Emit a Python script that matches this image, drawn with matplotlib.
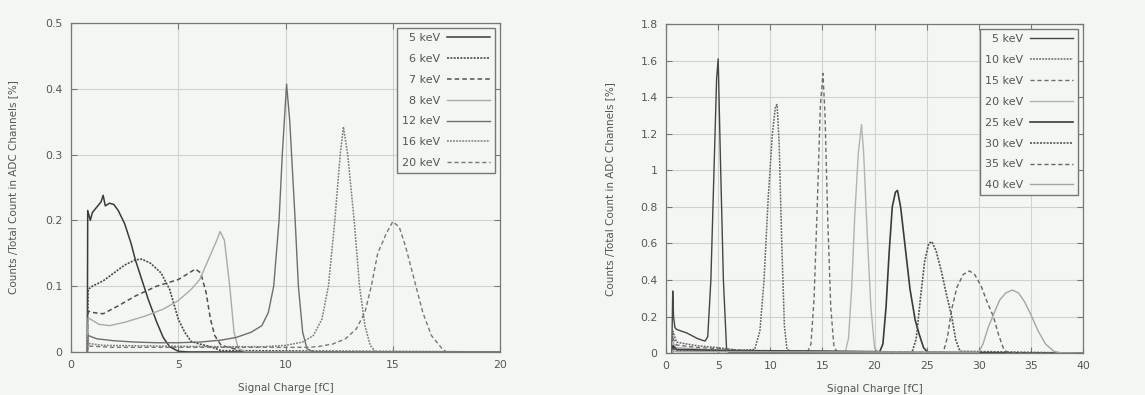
import numpy as np
import matplotlib
matplotlib.use("Agg")
import matplotlib.pyplot as plt
from matplotlib.ticker import FormatStrFormatter

# ---- left panel: low energies, 0..20 fC ----
l_labels = ["5 keV", "6 keV", "7 keV", "8 keV", "12 keV", "16 keV", "20 keV"]

l5_x = [0.76, 0.78, 0.9, 1.0, 1.2, 1.4, 1.5, 1.6, 1.8, 2.0, 2.2, 2.5, 2.8, 3.0, 3.3, 3.6, 4.0, 4.3, 4.6, 5.0, 5.5, 20]
l5_y = [0.0, 0.215, 0.2, 0.212, 0.22, 0.228, 0.238, 0.222, 0.226, 0.224, 0.215, 0.195, 0.165, 0.14, 0.11, 0.08, 0.045, 0.022, 0.008, 0.001, 0.0, 0.0]

l6_x = [0.76, 0.8, 1.0, 1.5, 2.0, 2.5, 3.0, 3.3, 3.7, 4.2, 4.6, 5.0, 5.3, 5.6, 6.0, 6.5, 7.0, 20]
l6_y = [0.0, 0.095, 0.1, 0.108, 0.12, 0.132, 0.14, 0.141, 0.135, 0.12, 0.095, 0.05, 0.03, 0.016, 0.012, 0.008, 0.002, 0.0]

l7_x = [0.76, 0.8, 1.0, 1.5, 2.2, 3.0, 4.0, 5.0, 5.8, 6.05, 6.3, 6.5, 6.7, 7.0, 7.6, 8.0, 20]
l7_y = [0.0, 0.062, 0.06, 0.058, 0.07, 0.085, 0.1, 0.11, 0.126, 0.12, 0.09, 0.05, 0.025, 0.01, 0.005, 0.0, 0.0]

l8_x = [0.76, 0.8, 0.9, 1.3, 1.8, 2.5, 3.5, 4.3, 5.0, 5.6, 6.0, 6.4, 6.8, 6.95, 7.15, 7.4, 7.6, 7.8, 8.2, 20]
l8_y = [0.0, 0.052, 0.05, 0.042, 0.04, 0.045, 0.055, 0.065, 0.078, 0.095, 0.11, 0.14, 0.17, 0.183, 0.17, 0.1, 0.03, 0.005, 0.0, 0.0]

l12_x = [0.76, 0.8, 1.2, 2.0, 3.0, 4.0, 5.0, 6.0, 7.0, 7.7, 8.4, 8.9, 9.2, 9.45, 9.7, 9.85, 10.05, 10.2, 10.45, 10.6, 10.8, 11.0, 11.3, 20]
l12_y = [0.0, 0.025, 0.02, 0.017, 0.015, 0.014, 0.014, 0.015, 0.018, 0.022, 0.03, 0.04, 0.06, 0.1, 0.2, 0.3, 0.407, 0.35, 0.2, 0.1, 0.03, 0.005, 0.0, 0.0]

l16_x = [0.76, 0.8, 1.5, 4.0, 7.0, 9.0, 10.0, 10.8, 11.3, 11.7, 12.0, 12.3, 12.55, 12.7, 12.9, 13.2, 13.45, 13.7, 13.95, 14.2, 20]
l16_y = [0.0, 0.013, 0.01, 0.009, 0.008, 0.008, 0.01, 0.015, 0.025, 0.05, 0.1, 0.2, 0.3, 0.342, 0.3, 0.2, 0.1, 0.04, 0.01, 0.0, 0.0]

l20_x = [0.76, 0.8, 2.0, 6.0, 11.0, 11.5, 12.2, 12.8, 13.3, 13.7, 14.0, 14.3, 14.7, 15.0, 15.3, 15.6, 16.0, 16.4, 16.8, 17.3, 17.5, 20]
l20_y = [0.0, 0.009, 0.007, 0.007, 0.007, 0.008, 0.012, 0.02, 0.035, 0.06, 0.1, 0.15, 0.18, 0.198, 0.19, 0.16, 0.11, 0.06, 0.025, 0.005, 0.0, 0.0]

# ---- right panel: high energies, 0..40 fC ----
r_labels = ["5 keV", "10 keV", "15 keV", "20 keV", "25 keV", "30 keV", "35 keV", "40 keV"]

r5_x = [0.55, 0.64, 0.72, 0.85, 1.0, 1.5, 2.0, 2.5, 3.0, 3.5, 3.75, 4.0, 4.3, 4.6, 4.85, 5.0, 5.2, 5.5, 5.8, 6.0, 40]
r5_y = [0.0, 0.34, 0.2, 0.14, 0.13, 0.12, 0.11, 0.095, 0.08, 0.07, 0.066, 0.09, 0.4, 1.0, 1.5, 1.61, 1.1, 0.4, 0.03, 0.005, 0.0]

r10_x = [0.6, 0.66, 1.0, 3.0, 5.0, 7.0, 8.5, 9.0, 9.4, 9.8, 10.2, 10.5, 10.65, 10.85, 11.1, 11.35, 11.6, 12.0, 40]
r10_y = [0.0, 0.12, 0.06, 0.04, 0.03, 0.015, 0.02, 0.12, 0.4, 0.85, 1.2, 1.35, 1.36, 1.15, 0.6, 0.15, 0.02, 0.01, 0.0]

r15_x = [0.6, 0.66, 1.0, 3.0, 5.0, 8.0, 13.6, 13.9, 14.2, 14.5, 14.8, 15.05, 15.25, 15.5, 15.8, 16.1, 16.4, 40]
r15_y = [0.0, 0.08, 0.045, 0.03, 0.025, 0.012, 0.01, 0.05, 0.3, 0.8, 1.35, 1.53, 1.3, 0.75, 0.25, 0.04, 0.005, 0.0]

r20_x = [0.6, 0.66, 1.0, 4.0, 8.0, 17.2, 17.5, 17.8, 18.1, 18.45, 18.75, 18.95, 19.3, 19.65, 20.0, 20.3, 40]
r20_y = [0.0, 0.06, 0.03, 0.02, 0.01, 0.008, 0.08, 0.35, 0.75, 1.1, 1.25, 1.1, 0.65, 0.25, 0.03, 0.005, 0.0]

r25_x = [0.6, 0.66, 1.0, 5.0, 20.5, 20.8, 21.1, 21.4, 21.7, 22.0, 22.2, 22.5, 22.9, 23.4, 23.9, 24.3, 24.7, 25.1, 40]
r25_y = [0.0, 0.04, 0.02, 0.015, 0.008, 0.05, 0.25, 0.55, 0.8, 0.88, 0.89, 0.8, 0.6, 0.35, 0.18, 0.1, 0.03, 0.004, 0.0]

r30_x = [0.6, 0.66, 1.0, 23.6, 24.0, 24.4, 24.8, 25.2, 25.5, 25.9, 26.4, 26.9, 27.4, 27.8, 28.2, 40]
r30_y = [0.0, 0.03, 0.015, 0.005, 0.08, 0.3, 0.5, 0.6, 0.61, 0.56, 0.45, 0.32, 0.2, 0.07, 0.01, 0.0]

r35_x = [0.6, 0.66, 1.0, 26.6, 27.0, 27.4, 27.9, 28.5, 29.1, 29.6, 30.2, 30.8, 31.4, 31.9, 32.4, 32.8, 40]
r35_y = [0.0, 0.02, 0.01, 0.005, 0.09, 0.24, 0.36, 0.43, 0.45, 0.43, 0.37, 0.28, 0.2, 0.1, 0.02, 0.003, 0.0]

r40_x = [0.6, 0.66, 1.0, 30.0, 30.4, 30.9, 31.4, 32.0, 32.6, 33.2, 33.8, 34.4, 35.0, 35.7, 36.4, 37.2, 37.8, 40]
r40_y = [0.0, 0.015, 0.008, 0.005, 0.05, 0.14, 0.21, 0.29, 0.33, 0.345, 0.33, 0.28, 0.21, 0.12, 0.05, 0.01, 0.002, 0.0]

DOT = (0, (1.2, 0.8))
DASH = (0, (3.0, 2.0))
l_styles = [("-", "#3a3a3a", 1.1), (DOT, "#4a4a4a", 1.2), (DASH, "#505050", 1.1),
            ("-", "#aaaaaa", 1.0), ("-", "#6e6e6e", 1.0), (DOT, "#7e7e7e", 1.1), (DASH, "#777777", 1.0)]
r_styles = [("-", "#454545", 1.0), (DOT, "#666666", 1.1), (DASH, "#6e6e6e", 1.0), ("-", "#b3b3b3", 1.0),
            ("-", "#3a3a3a", 1.2), (DOT, "#555555", 1.2), (DASH, "#666666", 1.0), ("-", "#a5a5a5", 1.0)]

bg = "#f4f6f3"
txt = "#555555"
plt.rcParams["font.family"] = "DejaVu Sans"

fig = plt.figure(figsize=(11.45, 3.95), dpi=100, facecolor=bg)
ax1 = fig.add_axes([0.062, 0.109, 0.3747, 0.833])
ax2 = fig.add_axes([0.5817, 0.106, 0.3642, 0.833])

l_data = [(l5_x, l5_y), (l6_x, l6_y), (l7_x, l7_y), (l8_x, l8_y), (l12_x, l12_y), (l16_x, l16_y), (l20_x, l20_y)]
r_data = [(r5_x, r5_y), (r10_x, r10_y), (r15_x, r15_y), (r20_x, r20_y), (r25_x, r25_y),
          (r30_x, r30_y), (r35_x, r35_y), (r40_x, r40_y)]

def setup(ax, data, labels, styles, xmax, ymax, xstep, ystep, ylpad):
    ax.set_facecolor(bg)
    for (x, y), lab, (ls, c, lw) in zip(data, labels, styles):
        ax.plot(x, y, ls=ls, color=c, lw=lw, label=lab)
    ax.set_xlim(0, xmax)
    ax.set_ylim(0, ymax)
    ax.set_xticks(np.arange(0, xmax + 0.001, xstep))
    ax.set_yticks(np.arange(0, ymax + 0.0001, ystep))
    ax.yaxis.set_major_formatter(FormatStrFormatter("%g"))
    ax.grid(color="#cfd3cf", lw=0.8)
    ax.set_axisbelow(True)
    ax.tick_params(direction="in", length=4, width=0.8, colors="#777777", labelcolor=txt,
                   labelsize=7.8, top=True, right=True, pad=6)
    for s in ax.spines.values():
        s.set_color("#777777")
        s.set_linewidth(0.9)
    ax.set_xlabel("Signal Charge [fC]", fontsize=7.5, color=txt, labelpad=9)
    ax.set_ylabel("Counts /Total Count in ADC Channels [%]", fontsize=7.5, color=txt, labelpad=ylpad)
    leg = ax.legend(loc="upper right", markerfirst=False, fontsize=8, handlelength=3.9,
                    labelspacing=0.98, handletextpad=0.6, borderpad=0.45, borderaxespad=0.45,
                    fancybox=False, framealpha=1, facecolor=bg, edgecolor="#777777")
    leg.get_frame().set_linewidth(1.0)
    for t in leg.get_texts():
        t.set_color(txt)

setup(ax1, l_data, l_labels, l_styles, 20, 0.5, 5, 0.1, 20)
setup(ax2, r_data, r_labels, r_styles, 40, 1.8, 5, 0.2, 18)

fig.savefig("out.png", dpi=100, facecolor=bg)
